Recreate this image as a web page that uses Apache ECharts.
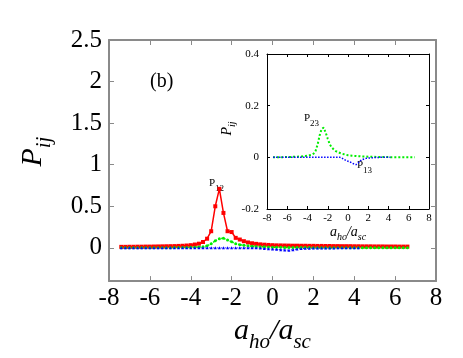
<!DOCTYPE html>
<html>
<head>
<meta charset="utf-8">
<script src="https://cdn.jsdelivr.net/npm/echarts@6/dist/echarts.min.js"></script>
<style>
  html, body { margin: 0; padding: 0; background: #fff; }
  #main { width: 463px; height: 358px; }
</style>
</head>
<body>
<div id="main"></div>
<script>
// a_ho/a_sc values
const xs = [-7.4, -7.2, -7.0, -6.8, -6.6, -6.4, -6.2, -6.0, -5.8, -5.6, -5.4, -5.2, -5.0,
  -4.8, -4.6, -4.4, -4.2, -4.0, -3.8, -3.6, -3.4, -3.2, -3.0,
  -2.8, -2.6, -2.4, -2.2, -2.0, -1.8, -1.6, -1.4, -1.2, -1.0,
  -0.8, -0.6, -0.4, -0.2, 0.0, 0.2, 0.4, 0.6, 0.8, 1.0,
  1.2, 1.4, 1.6, 1.8, 2.0, 2.2, 2.4, 2.6, 2.8, 3.0, 3.2, 3.4, 3.6, 3.8, 4.0, 4.2,
  4.4, 4.6, 4.8, 5.0, 5.2, 5.4, 5.6, 5.8, 6.0, 6.2, 6.4, 6.6];

// P12 (red)
const p12 = [0.012, 0.012, 0.013, 0.013, 0.014, 0.014, 0.015, 0.015, 0.016, 0.017, 0.018, 0.019, 0.02,
  0.021, 0.023, 0.025, 0.028, 0.032, 0.04, 0.05, 0.07, 0.11, 0.2,
  0.5, 0.71, 0.42, 0.2, 0.19, 0.12, 0.1, 0.08, 0.065, 0.055,
  0.048, 0.042, 0.038, 0.035, 0.032, 0.03, 0.029, 0.028, 0.027, 0.026,
  0.026, 0.025, 0.025, 0.024, 0.024, 0.023, 0.023, 0.022, 0.022, 0.021, 0.021, 0.02, 0.02, 0.02,
  0.019, 0.019, 0.018, 0.018, 0.018, 0.017, 0.017, 0.017, 0.016, 0.016, 0.016, 0.015, 0.015, 0.015];

// P23 (green)
const p23 = [0, 0, 0, 0, 0, 0, 0.001, 0.001, 0.001, 0.001, 0.002, 0.002, 0.002,
  0.003, 0.003, 0.004, 0.005, 0.006, 0.008, 0.01, 0.014, 0.025, 0.05,
  0.085, 0.11, 0.115, 0.095, 0.072, 0.05, 0.038, 0.03, 0.024, 0.02,
  0.017, 0.014, 0.012, 0.01, 0.008, 0.007, 0.006, 0.005, 0.005, 0.004,
  0.004, 0.003, 0.003, 0.003, 0.002, 0.002, 0.002, 0.002, 0.001, 0.001, 0.001, 0.001, 0.001, 0.001,
  0.001, 0, 0, 0, 0, 0, 0, 0, 0, 0, 0, 0, 0, 0];

// P13 (blue), stops at 4.4
const p13 = [0, 0, 0, 0, 0, 0, 0, 0, 0, 0, 0, 0, 0,
  0, 0, 0, 0, 0, 0, 0, 0, 0, 0,
  0, 0, 0, 0, 0, 0, 0, 0, 0, 0,
  0, -0.003, -0.008, -0.012, -0.015, -0.018, -0.022, -0.026, -0.028, -0.022,
  -0.014, -0.009, -0.006, -0.004, -0.003, -0.002, -0.002, -0.001, -0.001, -0.001, 0, 0, 0, 0,
  0, 0];

const mainYTicks = [0, 0.5, 1, 1.5, 2, 2.5];

function pairs(ys) {
  return ys.map((y, i) => [xs[i], y]);
}

const serif = "'Liberation Serif', 'DejaVu Serif', serif";
const grey = "#8a8a8a";

const chart = echarts.init(document.getElementById("main"));

// axis name rich styles
const bigRich = {
  it: { fontFamily: serif, fontStyle: "italic", fontSize: 30, color: "#000", lineHeight: 30, verticalAlign: "top" },
  sub: { fontFamily: serif, fontStyle: "italic", fontSize: 21, color: "#000", lineHeight: 21, padding: [16, 0, 0, 0], verticalAlign: "top" },
};
const smallRich = {
  it: { fontFamily: serif, fontStyle: "italic", fontSize: 14, color: "#000", lineHeight: 14, verticalAlign: "top" },
  sub: { fontFamily: serif, fontStyle: "italic", fontSize: 10, color: "#000", lineHeight: 10, padding: [7, 0, 0, 0], verticalAlign: "top" },
};
const labRich = {
  p: { fontFamily: serif, fontSize: 11, color: "#000", lineHeight: 11, verticalAlign: "top" },
  s: { fontFamily: serif, fontSize: 9, color: "#000", lineHeight: 9, padding: [6, 0, 0, 0], verticalAlign: "top" },
};

function xAx(grid, pos, big) {
  return {
    gridIndex: grid, type: "value", position: pos, min: -8, max: 8, interval: 2,
    axisLine: { onZero: false, lineStyle: { color: big ? grey : "#000", width: big ? 2 : 1 } },
    axisTick: { inside: true, length: big ? 5 : 3, lineStyle: { color: big ? grey : "#000", width: 1 } },
    axisLabel: {
      show: pos === "bottom", fontFamily: serif, color: "#000",
      fontSize: big ? 25 : 11, margin: big ? 5 : 4,
    },
    splitLine: { show: false },
    name: pos === "bottom" ? "{it|a}{sub|ho}{it|/a}{sub|sc}" : "",
    nameLocation: "middle",
    nameGap: big ? 31 : 16,
    nameTextStyle: { rich: big ? bigRich : smallRich },
  };
}

function yAx(grid, pos, big) {
  const ax = {
    gridIndex: grid, type: "value", position: pos,
    axisLine: { onZero: false, lineStyle: { color: big ? grey : "#000", width: big ? 2 : 1 } },
    axisTick: { inside: true, length: big ? 5 : 3, lineStyle: { color: big ? grey : "#000", width: 1 } },
    axisLabel: {
      show: pos === "left", fontFamily: serif, color: "#000",
      fontSize: big ? 25 : 11, margin: big ? 7 : 8,
    },
    splitLine: { show: false },
    name: pos === "left" ? "{it|P}{sub|ij}" : "",
    nameLocation: "middle",
    nameRotate: 90,
    nameGap: big ? 61 : 19,
    nameTextStyle: { rich: big ? bigRich : smallRich, padding: big ? [0, 0, 0, 18] : [0, 0, 0, 6] },
  };
  if (big) {
    ax.min = -0.4;
    ax.max = 2.5;
    ax.axisLabel.customValues = mainYTicks;
    ax.axisTick.customValues = mainYTicks;
  } else {
    ax.min = -0.2;
    ax.max = 0.4;
    ax.interval = 0.2;
  }
  return ax;
}

const option = {
  animation: false,
  backgroundColor: "#fff",
  grid: [
    { left: 109, top: 40, width: 327, height: 248 },
    { left: 267, top: 54, width: 162, height: 155, backgroundColor: "#fff", show: true, borderWidth: 0 },
  ],
  xAxis: [xAx(0, "bottom", true), xAx(0, "top", true), xAx(1, "bottom", false), xAx(1, "top", false)],
  yAxis: [yAx(0, "left", true), yAx(0, "right", true), yAx(1, "left", false), yAx(1, "right", false)],
  series: [
    {
      name: "P12", type: "line", xAxisIndex: 0, yAxisIndex: 0,
      data: pairs(p12), symbol: "rect", symbolSize: 4,
      itemStyle: { color: "#ff0000" },
      lineStyle: { color: "#ff0000", width: 1.5 },
    },
    {
      name: "P23", type: "line", xAxisIndex: 0, yAxisIndex: 0,
      data: pairs(p23), symbol: "circle", symbolSize: 3,
      itemStyle: { color: "#00ee00" },
      lineStyle: { color: "#00ee00", width: 1.5, type: "dotted" },
    },
    {
      name: "P13", type: "line", xAxisIndex: 0, yAxisIndex: 0,
      data: pairs(p13), symbol: "triangle", symbolSize: 3,
      itemStyle: { color: "#0000ff" },
      lineStyle: { color: "#0000ff", width: 1, type: "dotted" },
    },
    {
      name: "P23 inset", type: "line", xAxisIndex: 2, yAxisIndex: 2,
      data: pairs(p23), symbol: "none",
      lineStyle: { color: "#00ee00", width: 2, type: "dotted" },
    },
    {
      name: "P13 inset", type: "line", xAxisIndex: 2, yAxisIndex: 2,
      data: pairs(p13), symbol: "none",
      lineStyle: { color: "#0000ff", width: 1.5, type: "dotted" },
    },
  ],
  graphic: [
    { type: "text", left: 150, top: 72, style: { text: "(b)", fontFamily: serif, fontSize: 20, fill: "#000" } },
    { type: "text", left: 209, top: 178, style: { text: "{p|P}{s|12}", rich: labRich } },
    { type: "text", left: 304, top: 113, style: { text: "{p|P}{s|23}", rich: labRich } },
    { type: "text", left: 357, top: 160, style: { text: "{p|P}{s|13}", rich: labRich } },
  ],
};

chart.setOption(option);
</script>
</body>
</html>
